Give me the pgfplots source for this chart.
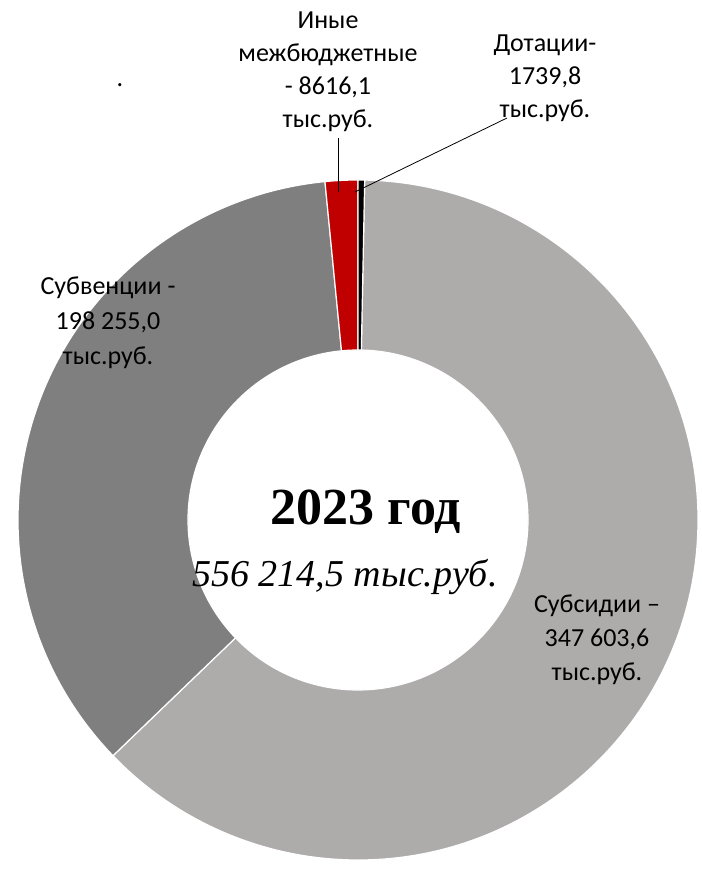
\documentclass[border=0pt]{standalone}
\usepackage{pgfplots}
\pgfplotsset{compat=1.18}
\usepackage{pgfplotstable}
\usepackage{fontspec}
\setmainfont{Carlito}
\newfontfamily\tnr{Liberation Serif}
\definecolor{subsid}{HTML}{AEABAB}
\definecolor{subven}{HTML}{7F7F7F}
\definecolor{inye}{HTML}{C00000}
\definecolor{dotac}{HTML}{000000}

\pgfplotstableread{
name value
Dotacii 1739.8
Subsidii 347603.6
Subvencii 198255.0
Inye 8616.1
}\datatable

\newcommand\slice[3]{%
  \fill[#3, draw=white, line width=1.2pt]
    (axis cs:{358+340*cos(#1)},{349+340*sin(#1)})
    arc[start angle=#1, end angle=#2, radius=340pt]
    -- (axis cs:{358+170*cos(#2)},{349+170*sin(#2)})
    arc[start angle=#2, end angle=#1, radius=170pt] -- cycle;}

\begin{document}
\pgfplotstablegetelem{0}{value}\of\datatable \edef\va{\pgfplotsretval}%
\pgfplotstablegetelem{1}{value}\of\datatable \edef\vb{\pgfplotsretval}%
\pgfplotstablegetelem{2}{value}\of\datatable \edef\vc{\pgfplotsretval}%
\pgfplotstablegetelem{3}{value}\of\datatable \edef\vd{\pgfplotsretval}%
\edef\total{\fpeval{\va+\vb+\vc+\vd}}%
\edef\aA{90}%
\edef\aB{\fpeval{round(90-360*\va/\total,4)}}%
\edef\aC{\fpeval{round(\aB-360*\vb/\total,4)}}%
\edef\aD{\fpeval{round(\aC-360*\vc/\total,4)}}%
\edef\aE{\fpeval{round(\aD-360*\vd/\total,4)}}%
\begin{tikzpicture}
\begin{axis}[hide axis, scale only axis, width=701pt, height=869pt,
  xmin=0, xmax=701, ymin=0, ymax=869, clip=false]
\slice{\aB}{\aC}{subsid}
\slice{\aC}{\aD}{subven}
\slice{\aD}{\aE}{inye}
\slice{\aA}{\aB}{dotac}
% leader lines
\draw[black, line width=0.8pt] (axis cs:338,677) -- (axis cs:338,731);
\draw[black, line width=0.8pt] (axis cs:355,677) -- (axis cs:507,751);
% labels
\node[align=center, inner sep=0pt, font=\fontsize{26}{33}\selectfont] at (axis cs:328,797) {Иные\\межбюджетные\\- 8616,1\\тыс.руб.};
\node[align=center, inner sep=0pt, font=\fontsize{26}{33}\selectfont] at (axis cs:545,791) {Дотации-\\1739,8\\тыс.руб.};
\node[align=center, inner sep=0pt, font=\fontsize{26}{35}\selectfont] at (axis cs:108,546) {Субвенции -\\198 255,0\\тыс.руб.};
\node[align=center, inner sep=0pt, font=\fontsize{26}{34}\selectfont] at (axis cs:597,229) {Субсидии –\\347 603,6\\тыс.руб.};
\node[inner sep=0pt, font=\fontsize{26}{30}\selectfont] at (axis cs:120,784) {.};
\node[inner sep=0pt, font=\tnr\bfseries\fontsize{52}{58}\selectfont] at (axis cs:366,357) {2023 год};
\node[inner sep=0pt, font=\tnr\itshape\fontsize{38}{44}\selectfont] at (axis cs:345,292) {556 214,5 тыс.руб.};
\end{axis}
\pgfresetboundingbox
\path (current axis.south west) rectangle (current axis.north east);
\end{tikzpicture}
\end{document}
